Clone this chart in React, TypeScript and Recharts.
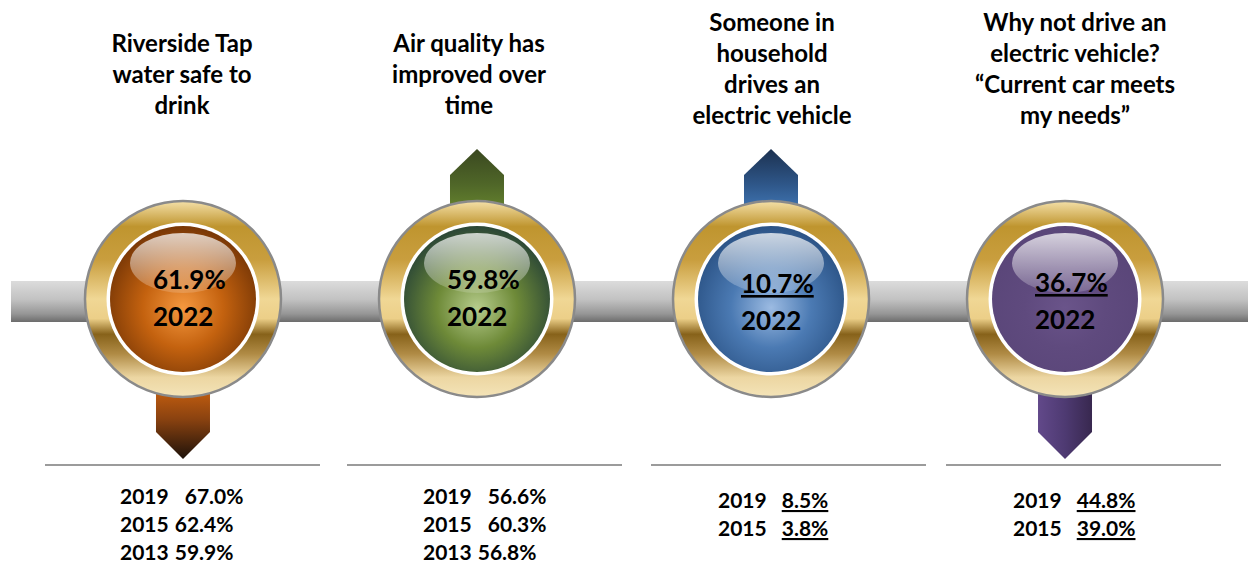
import React from 'react';
import { ComposedChart, Scatter, XAxis, YAxis, ReferenceArea } from 'recharts';

// what the four medallions say
const titles = [
  ['Riverside Tap', 'water safe to', 'drink'],
  ['Air quality has', 'improved over', 'time'],
  ['Someone in', 'household', 'drives an', 'electric vehicle'],
  ['Why not drive an', 'electric vehicle?', '\u201CCurrent car meets', 'my needs\u201D'],
];
const currentValues = ['61.9%', '59.8%', '10.7%', '36.7%'];
const currentYear = '2022';
const pastYears = [
  ['2019', '2015', '2013'],
  ['2019', '2015', '2013'],
  ['2019', '2015'],
  ['2019', '2015'],
];
const pastValues = [
  ['67.0%', '62.4%', '59.9%'],
  ['56.6%', '60.3%', '56.8%'],
  ['8.5%', '3.8%'],
  ['44.8%', '39.0%'],
];

const FONT = 'Lato, "Open Sans", sans-serif';
const W = 1248;
const H = 564;
const CENTER_Y = 299;

// look of each column (colours, arrow direction, small layout nudges)
const looks = [
  {
    core: ['#f5983f', '#c4620f', '#7a3806'],
    arrow: 'down', arrowStops: ['#d8680f', '#8a4210', '#1e120a'], arrowHoriz: false,
    titleDx: -1, valueDy: 0, underline: false, rowX: -63, rowY: 504, gaps: [16, 6, 6], lineX: -138,
  },
  {
    core: ['#b6cc8c', '#6e8a38', '#2c4836'],
    arrow: 'up', arrowStops: ['#3a4820', '#4f6628', '#6c8c30'], arrowHoriz: false,
    titleDx: -8, valueDy: 0, underline: false, rowX: -54, rowY: 504, gaps: [16, 16, 6], lineX: -130,
  },
  {
    core: ['#9cbbe2', '#4b7ab3', '#2c5487'],
    arrow: 'up', arrowStops: ['#1c3150', '#2e5688', '#4680c2'], arrowHoriz: false,
    titleDx: 1, valueDy: 4, underline: true, rowX: -53, rowY: 508, gaps: [15, 15], lineX: -120,
  },
  {
    core: ['#6a548a', '#5f4a7e', '#5a4679'],
    arrow: 'down', arrowStops: ['#62498a', '#4e3a72', '#38284f'], arrowHoriz: true,
    titleDx: 10, valueDy: 3, underline: true, rowX: -52, rowY: 508, gaps: [15, 15], lineX: -119,
  },
];

const chartData = currentValues.map((v, i) => ({ x: i, y: CENTER_Y, value: v, i }));

// x: 0..3 -> 183..1065 px
const X_DOMAIN = [-0.6224, 3.6224];

const SharedDefs = () => (
  <defs>
    <linearGradient id="barGrad" x1="0" y1="0" x2="0" y2="1">
      <stop offset="0" stopColor="#dcdcdc" />
      <stop offset="0.45" stopColor="#c2c2c2" />
      <stop offset="0.8" stopColor="#969696" />
      <stop offset="1" stopColor="#6c6c6c" />
    </linearGradient>
    <linearGradient id="goldGrad" x1="0" y1="0" x2="0" y2="1">
      <stop offset="0" stopColor="#f4e0a8" />
      <stop offset="0.13" stopColor="#bf952f" />
      <stop offset="0.3" stopColor="#c99e3e" />
      <stop offset="0.5" stopColor="#f0d795" />
      <stop offset="0.6" stopColor="#eccf88" />
      <stop offset="0.68" stopColor="#87621a" />
      <stop offset="0.78" stopColor="#b08b45" />
      <stop offset="0.9" stopColor="#ecd6a2" />
      <stop offset="1" stopColor="#f4e4b8" />
    </linearGradient>
    <linearGradient id="glossGrad" x1="0" y1="0" x2="0" y2="1">
      <stop offset="0" stopColor="#ffffff" stopOpacity="0.75" />
      <stop offset="1" stopColor="#ffffff" stopOpacity="0.15" />
    </linearGradient>
  </defs>
);

const Medallion = (props: any) => {
  const { cx, cy, payload } = props;
  const i = payload.i;
  const look = looks[i];
  const lines = titles[i];
  const up = look.arrow === 'up';
  const hw = 27;
  const arrowPath = up
    ? `M${cx - hw},${cy - 80} V${cy - 124} L${cx},${cy - 150} L${cx + hw},${cy - 124} V${cy - 80} Z`
    : `M${cx - hw},${cy + 80} V${cy + 133} L${cx},${cy + 160} L${cx + hw},${cy + 133} V${cy + 80} Z`;
  const titleTop = lines.length === 4 ? 31 : 52;
  const vy = cy + look.valueDy;
  const vx = cx - 30;

  return (
    <g>
      {i === 0 && <SharedDefs />}
      <defs>
        <radialGradient id={`core${i}`} cx="0.5" cy="0.56" r="0.55">
          <stop offset="0" stopColor={look.core[0]} />
          <stop offset="0.5" stopColor={look.core[1]} />
          <stop offset="1" stopColor={look.core[2]} />
        </radialGradient>
        <linearGradient
          id={`arrow${i}`}
          x1="0" y1="0"
          x2={look.arrowHoriz ? '1' : '0'}
          y2={look.arrowHoriz ? '0' : '1'}
        >
          <stop offset="0" stopColor={look.arrowStops[0]} />
          <stop offset="0.5" stopColor={look.arrowStops[1]} />
          <stop offset="1" stopColor={look.arrowStops[2]} />
        </linearGradient>
      </defs>

      {lines.map((t, k) => (
        <text
          key={k}
          x={cx + look.titleDx}
          y={titleTop + k * 31}
          textAnchor="middle"
          fontFamily={FONT}
          fontWeight={700}
          fontSize={24}
          fill="#000"
        >
          {t}
        </text>
      ))}

      <path d={arrowPath} fill={`url(#arrow${i})`} />
      <circle cx={cx} cy={cy} r={98} fill="url(#goldGrad)" stroke="#8a8a8a" strokeWidth={2.5} />
      <circle cx={cx} cy={cy} r={76.5} fill="#ffffff" />
      <circle cx={cx} cy={cy} r={73} fill={`url(#core${i})`} />
      <ellipse cx={cx} cy={cy - 36} rx={53} ry={30} fill="url(#glossGrad)" />

      <text
        x={vx}
        y={vy - 10}
        fontFamily={FONT}
        fontWeight={700}
        fontSize={26}
        fill="#000"
        style={look.underline ? { textDecoration: 'underline' } : undefined}
      >
        {payload.value}
      </text>
      <text x={vx} y={vy + 27} fontFamily={FONT} fontWeight={700} fontSize={26} fill="#000">
        {currentYear}
      </text>

      <line
        x1={cx + look.lineX}
        x2={cx + look.lineX + 275}
        y1={465}
        y2={465}
        stroke="#7a7a7a"
        strokeWidth={1.5}
      />

      {pastYears[i].map((yr, k) => (
        <text
          key={yr + k}
          x={cx + look.rowX}
          y={look.rowY + k * 28}
          fontFamily={FONT}
          fontWeight={700}
          fontSize={21}
          fill="#000"
        >
          <tspan>{yr}</tspan>
          <tspan
            dx={look.gaps[k]}
            style={look.underline ? { textDecoration: 'underline' } : undefined}
          >
            {pastValues[i][k]}
          </tspan>
        </text>
      ))}
    </g>
  );
};

export default function App() {
  return (
    <div style={{ position: 'absolute', left: 0, top: 0, width: W, height: H, background: '#fff' }}>
      <ComposedChart
        width={W}
        height={H}
        data={chartData}
        margin={{ top: 0, right: 0, bottom: 0, left: 0 }}
      >
        <XAxis dataKey="x" type="number" domain={X_DOMAIN} hide />
        <YAxis type="number" domain={[0, H]} reversed hide />
        <ReferenceArea
          x1={X_DOMAIN[0] + 11 / 294}
          x2={X_DOMAIN[1]}
          y1={281}
          y2={322}
          fill="url(#barGrad)"
          fillOpacity={1}
          stroke="none"
        />
        <Scatter dataKey="y" shape={Medallion} isAnimationActive={false} />
      </ComposedChart>
    </div>
  );
}
